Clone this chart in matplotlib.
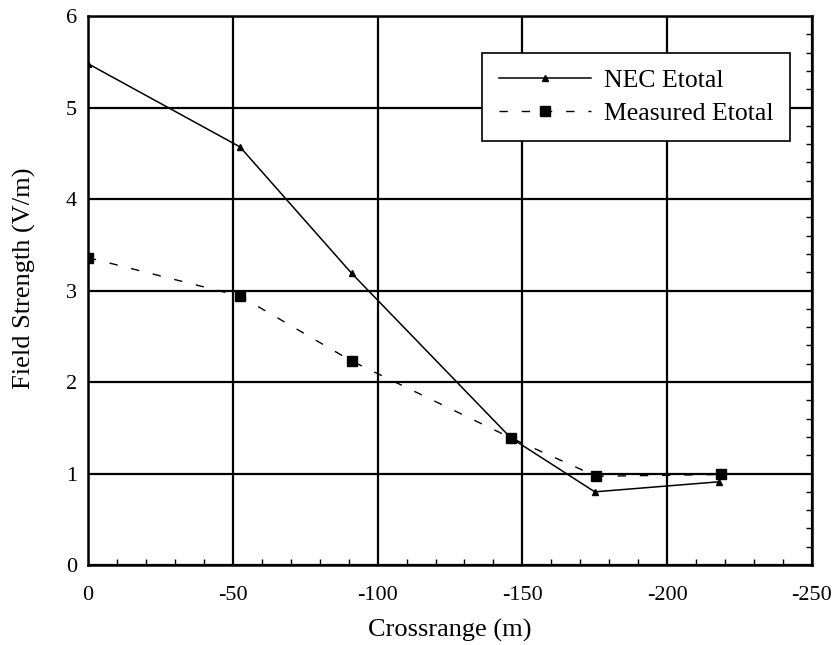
import matplotlib
matplotlib.use("Agg")
import matplotlib.pyplot as plt
from matplotlib.ticker import MultipleLocator

plt.rcParams['font.family'] = ['Liberation Serif', 'DejaVu Serif']
plt.rcParams['axes.unicode_minus'] = False

# crossrange (m) and field strength (V/m)
nec_x = [0, -52.5, -91, -146, -175, -218]
nec_e = [5.48, 4.57, 3.19, 1.39, 0.80, 0.91]
meas_x = [0, -52.5, -91, -146, -175.5, -218.5]
meas_e = [3.36, 2.94, 2.23, 1.39, 0.97, 0.99]

fig = plt.figure(figsize=(8.35, 6.45), dpi=100)
ax = fig.add_axes([0.1054, 0.124, 0.867, 0.851])

ax.plot(nec_x, nec_e, color='black', lw=1.1, marker='^', ms=4, label='NEC Etotal')
ax.plot(meas_x, meas_e, color='black', lw=1.0, ls=(0, (6, 10)), marker='s', ms=7,
        label='Measured Etotal')

ax.set_xlim(0, -250)
ax.set_ylim(0, 6)
ax.xaxis.set_major_locator(MultipleLocator(50))
ax.yaxis.set_major_locator(MultipleLocator(1))
ax.xaxis.set_minor_locator(MultipleLocator(10))
ax.yaxis.set_minor_locator(MultipleLocator(0.2))
ax.grid(True, which='major', color='black', lw=1.6)
ax.tick_params(which='both', direction='in', labelsize=16, length=0)
ax.tick_params(axis='x', pad=15)
ax.tick_params(axis='y', pad=8)
ax.tick_params(which='minor', length=4, width=1, bottom=True, right=True, left=False, top=False)
for s in ax.spines.values():
    s.set_linewidth(1.8)

ax.set_xlabel('Crossrange (m)', fontsize=19, labelpad=10)
ax.set_ylabel('Field Strength (V/m)', fontsize=19)
ax.yaxis.set_label_coords(-0.072, 0.523)

leg = ax.legend(loc='upper right', bbox_to_anchor=(0.97, 0.933), fontsize=18.5,
                fancybox=False, framealpha=1, edgecolor='black', handlelength=3.6,
                borderpad=0.64, labelspacing=0.36, handletextpad=0.5, borderaxespad=0)
leg.get_frame().set_linewidth(1.2)

fig.savefig('out.png', dpi=100)
